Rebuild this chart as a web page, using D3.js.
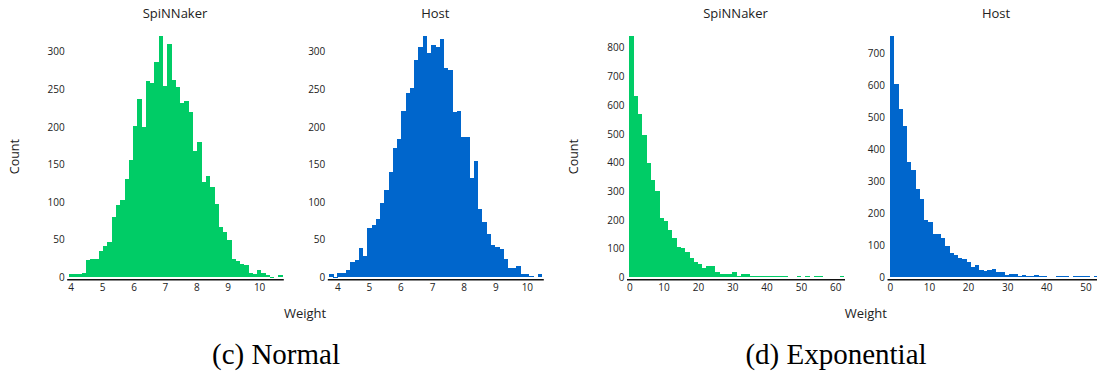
<!DOCTYPE html>
<html>
<head>
<meta charset="utf-8">
<script src="https://cdn.jsdelivr.net/npm/d3@7"></script>
<style>
  html, body { margin: 0; padding: 0; background: #fff; }
  svg { display: block; }
</style>
</head>
<body>
<div id="chart"></div>
<script>
// ---------- data ----------
const normalSpinnakerCounts = [4,5,4,6,23,24,24,35,42,47,
  80,96,103,131,156,201,237,200,261,258,
  287,321,254,311,262,253,232,234,220,168,
  180,127,135,120,98,67,60,49,24,22,
  18,16,6,5,10,6,3,1,0,3];
const normalHostCounts = [4,1,6,6,10,20,23,39,29,65,
  69,77,99,116,140,172,184,221,245,252,
  289,307,321,298,309,306,317,278,276,220,
  221,187,187,132,155,91,73,58,43,40,
  38,25,13,12,15,5,4,2,0,4];
const expSpinnakerCounts = [841,632,569,496,398,339,301,207,196,165,
  137,106,102,88,69,52,48,34,38,38,
  20,13,13,13,20,6,13,13,6,6,
  6,5,5,5,5,5,5,0,0,3,
  0,3,0,3,3,0,0,0,0,3];
const expHostCounts = [754,604,526,473,360,335,276,245,179,173,
  135,135,123,98,76,70,61,58,48,31,
  39,22,19,22,25,18,18,8,11,11,
  5,8,5,5,8,5,3,0,0,3,
  3,3,0,3,3,3,3,0,3,3];

// bin start and width (weight units), 50 bins each
const binStarts = [3.946, 3.737, 0.0, 0.0];
const binWidths = [0.136, 0.1347, 1.25, 1.086];
// axis value ranges
const xDomains = [[3.873, 10.77], [3.684, 10.52], [-0.8, 62.7], [-0.7, 55.0]];
// tick labels
const normalXTicks = [4,5,6,7,8,9,10];
const expSpinnakerXTicks = [0,10,20,30,40,50,60];
const expHostXTicks = [0,10,20,30,40,50];
const normalYTicks = [0,50,100,150,200,250,300];
const expSpinnakerYTicks = [0,100,200,300,400,500,600,700,800];
const expHostYTicks = [0,100,200,300,400,500,600,700];
const panelTitles = ["SpiNNaker", "Host", "SpiNNaker", "Host"];
const captions = ["(c) Normal", "(d) Exponential"];
const xLabel = "Weight";
const yLabel = "Count";

// ---------- layout ----------
const W = 1097, H = 374;
const GREEN = "#00cc66", BLUE = "#0066cc", TEXT = "#222";
const FONT = "'Open Sans', 'Noto Sans', sans-serif";
const yBottom = 277.3, yTop = 36, axisY = 279.3;

const panels = [
  {counts: normalSpinnakerCounts, left: 66.7, right: 283.3, xt: normalXTicks, yt: normalYTicks, color: GREEN},
  {counts: normalHostCounts, left: 327.3, right: 543.3, xt: normalXTicks, yt: normalYTicks, color: BLUE},
  {counts: expSpinnakerCounts, left: 626.5, right: 844.5, xt: expSpinnakerXTicks, yt: expSpinnakerYTicks, color: GREEN},
  {counts: expHostCounts, left: 887, right: 1105, xt: expHostXTicks, yt: expHostYTicks, color: BLUE}
];

const svg = d3.select("#chart").append("svg")
  .attr("width", W).attr("height", H)
  .style("font-family", FONT);

panels.forEach((p, i) => {
  const x = d3.scaleLinear().domain(xDomains[i]).range([p.left, p.right]);
  const y = d3.scaleLinear().domain([0, d3.max(p.counts)]).range([yBottom, yTop]);
  const bins = p.counts.map((c, k) => ({
    x0: binStarts[i] + k * binWidths[i],
    x1: binStarts[i] + (k + 1) * binWidths[i],
    c
  }));
  const g = svg.append("g");
  g.selectAll("rect").data(bins.filter(b => b.c > 0)).join("rect")
    .attr("x", b => x(b.x0))
    .attr("width", b => x(b.x1) - x(b.x0) + 0.3)
    .attr("y", b => y(b.c))
    .attr("height", b => Math.max(1, y(0) - y(b.c)))
    .attr("fill", p.color)
    .attr("shape-rendering", "crispEdges");

  // x axis
  const xa = g.append("g").attr("transform", `translate(0,${axisY})`)
    .call(d3.axisBottom(x).tickValues(p.xt).tickSize(0).tickSizeOuter(0).tickPadding(4.6).tickFormat(d3.format("d")));
  xa.select(".domain").attr("stroke", "#111").attr("stroke-width", 1.6);
  xa.selectAll("text").attr("fill", TEXT).style("font-size", "10px").style("font-family", FONT);

  // y axis
  const ya = g.append("g").attr("transform", `translate(${p.left},0)`)
    .call(d3.axisLeft(y).tickValues(p.yt).tickSize(0).tickPadding(2).tickFormat(d3.format("d")));
  ya.select(".domain").remove();
  ya.selectAll("text").attr("fill", TEXT).style("font-size", "10px").style("font-family", FONT);

  // title
  g.append("text").attr("x", (p.left + p.right) / 2).attr("y", 18.3)
    .attr("text-anchor", "middle").attr("fill", TEXT)
    .style("font-size", "13px").text(panelTitles[i]);
});

// shared labels for each pair
[[0, 1], [2, 3]].forEach(([a, b], j) => {
  const pa = panels[a], pb = panels[b];
  const cx = (pa.left + pb.right) / 2;
  svg.append("text").attr("x", cx).attr("y", 318.3)
    .attr("text-anchor", "middle").attr("fill", TEXT)
    .style("font-size", "13px").text(xLabel);
  svg.append("text")
    .attr("transform", `translate(${pa.left - 52.5},${(yTop + yBottom) / 2}) rotate(-90)`)
    .attr("dy", "0.35em")
    .attr("text-anchor", "middle").attr("fill", TEXT)
    .style("font-size", "12.5px").text(yLabel);
  svg.append("text").attr("x", j === 0 ? 276 : 836).attr("y", 364)
    .attr("text-anchor", "middle").attr("fill", "#000")
    .style("font-family", "'Liberation Serif', 'Times New Roman', serif")
    .style("font-size", "29px").text(captions[j]);
});
</script>
</body>
</html>
